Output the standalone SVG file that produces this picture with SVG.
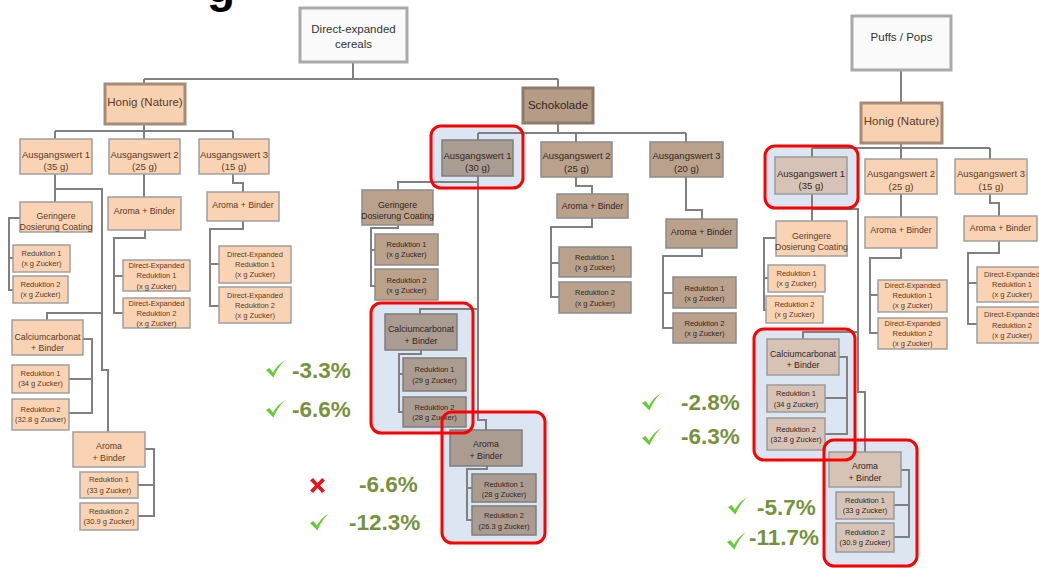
<svg xmlns="http://www.w3.org/2000/svg" width="1039" height="568" viewBox="0 0 1039 568">
<style>
.ln{stroke:#808080;stroke-width:2;fill:none}
.root{fill:#fafafa;stroke:#a9a9a9;stroke-width:3}
.hon{fill:#f8d1b0;stroke:#a58b78;stroke-width:3}
.sch{fill:#b59c86;stroke:#8f7a6a;stroke-width:3}
.pe{fill:#f9d3b3;stroke:#a0a0a0;stroke-width:1.5}
.ta{fill:#b9a18c;stroke:#8c8c8c;stroke-width:1.5}
.hg{fill:#ab9c92;stroke:#7e7e7e;stroke-width:1.5}
.hp{fill:#d7c3b6;stroke:#9a9a9a;stroke-width:1.5}
.hl{fill:#dce6f2}
.rd{fill:none;stroke:#ff0000;stroke-width:3}
text{font-family:'Liberation Sans',Arial,sans-serif;text-anchor:middle}
.tp{fill:#5b3b27}
.tt{fill:#33261d}
.tr{fill:#333}
.s12{font-size:11.5px}
.s10{font-size:9.5px}
.s9{font-size:8.8px}
.s7{font-size:7.5px}
.pct{font-size:22.5px;font-weight:bold;fill:#76923c;text-anchor:start}
.chk{fill:#66cc33}
.crs{fill:#e8141c}
</style>
<defs>
<path id="check" d="M0,10 L3.5,8 L7,12.5 C10,7 14,3 19.5,0 C15,4 11,9 7.5,17.5 Z"/>
<path id="cross" d="M0,2.5 L3,0 L7.5,5 L12,0 L15,2.5 L10,7.5 L15,12.5 L12,15 L7.5,10 L3,15 L0,12.5 L5,7.5 Z"/>
</defs>
<rect width="1039" height="568" fill="#ffffff"/>
<text x="207" y="2" style="font-size:46px;font-weight:bold;fill:#000;text-anchor:start">g</text>

<g id="highlights">
<rect class="hl" x="431" y="126" width="92" height="62" rx="10"/>
<rect class="hl" x="371" y="303" width="102" height="130" rx="10"/>
<rect class="hl" x="442" y="412" width="103" height="131" rx="10"/>
<rect class="hl" x="765" y="146" width="93" height="62" rx="10"/>
<rect class="hl" x="754" y="329" width="101" height="131" rx="10"/>
<rect class="hl" x="824" y="440" width="93" height="126" rx="10"/>
</g>

<g id="connectors">
<path class="ln" d="M353,62 V79 M144,79 H558 M144,79 V84 M558,79 V88"/>
<path class="ln" d="M144,124 V131 M55,131 H233 M55,131 V139 M144,131 V139 M233,131 V139"/>
<path class="ln" d="M55,174 V202 M55,189 H102 V370 H108 V432 M102,313 H47 V320"/>
<path class="ln" d="M20,218 H9 V290 H13 M9,258 H13"/>
<path class="ln" d="M83,339 H92 V413 H69 M92,379 H69"/>
<path class="ln" d="M145,449 H154 V516 H138 M154,485 H138"/>
<path class="ln" d="M144,174 V197 M145,230 V238 H114 V313 H123 M114,276 H123"/>
<path class="ln" d="M233,174 V183 H243 V192 M243,221 V229 H210 V306 H219 M210,264 H219"/>
<path class="ln" d="M558,123 V133 M478,133 H686 M478,133 V140 M576,133 V142 M686,133 V142"/>
<path class="ln" d="M478,176 V420 H486 V430 M478,182 H398 V190 M478,309 H420 V314"/>
<path class="ln" d="M398,225 V228 H371 V286 H375 M371,250 H375"/>
<path class="ln" d="M421,350 V354 H399 V412 H403 M399,374 H403"/>
<path class="ln" d="M487,466 V469 H467 V520 H472 M467,488 H472"/>
<path class="ln" d="M576,177 V186 H592 V194 M592,218 V227 H551 V297 H559 M551,263 H559"/>
<path class="ln" d="M686,177 V210 H702 V219 M702,248 V256 H663 V328 H673 M663,293 H673"/>
<path class="ln" d="M901,70 V103 M901,143 V148 M812,148 H990 M812,148 V157 M901,148 V159 M990,148 V159"/>
<path class="ln" d="M812,194 V221 M812,209 H858 V392 H865 V452 M858,332 H803 V339"/>
<path class="ln" d="M776,238 H764 V310 H766 M764,278 H768"/>
<path class="ln" d="M839,357 H847 V434 H825 M847,398 H825"/>
<path class="ln" d="M901,470 H909 V537 H894 M909,505 H894"/>
<path class="ln" d="M901,194 V217 M901,248 V258 H870 V333 H878 M870,295 H878"/>
<path class="ln" d="M990,194 V203 H999 V216 M999,241 V253 H968 V324 H977 M968,283 H977"/>
</g>

<!-- Left tree -->
<g id="rootL"><rect class="root" x="300" y="8" width="107" height="54"/><text class="tr s12" x="353.5" y="33">Direct-expanded</text><text class="tr s12" x="353.5" y="48">cereals</text></g>
<g id="honigL"><rect class="hon" x="105" y="84" width="80" height="40"/><text class="tp s12" x="145" y="106">Honig (Nature)</text></g>
<g id="aw1L"><rect class="pe" x="20" y="139" width="72" height="35"/><text class="tp s10" x="56" y="157.5">Ausgangswert 1</text><text class="tp s10" x="56" y="169.5">(35 g)</text></g>
<g id="aw2L"><rect class="pe" x="109" y="139" width="71" height="35"/><text class="tp s10" x="144.5" y="157.5">Ausgangswert 2</text><text class="tp s10" x="144.5" y="169.5">(25 g)</text></g>
<g id="aw3L"><rect class="pe" x="199" y="139" width="70" height="35"/><text class="tp s10" x="234" y="157.5">Ausgangswert 3</text><text class="tp s10" x="234" y="169.5">(15 g)</text></g>
<g id="gerL"><rect class="pe" x="20" y="202" width="72" height="30"/><text class="tp s9" x="56" y="219">Geringere</text><text class="tp s9" x="56" y="229.5">Dosierung Coating</text></g>
<g id="r1Lg"><rect class="pe" x="13" y="245" width="57" height="27"/><text class="tp s7" x="41.5" y="256">Reduktion 1</text><text class="tp s7" x="41.5" y="266">(x g Zucker)</text></g>
<g id="r2Lg"><rect class="pe" x="13" y="276" width="55" height="27"/><text class="tp s7" x="40.5" y="287">Reduktion 2</text><text class="tp s7" x="40.5" y="297">(x g Zucker)</text></g>
<g id="calL"><rect class="pe" x="12" y="320" width="71" height="35"/><text class="tp s9" x="47.5" y="339.5">Calciumcarbonat</text><text class="tp s9" x="47.5" y="350.5">+ Binder</text></g>
<g id="r1Lc"><rect class="pe" x="12" y="365" width="57" height="28"/><text class="tp s7" x="40.5" y="376">Reduktion 1</text><text class="tp s7" x="40.5" y="386">(34 g Zucker)</text></g>
<g id="r2Lc"><rect class="pe" x="12" y="399" width="57" height="31"/><text class="tp s7" x="40.5" y="412">Reduktion 2</text><text class="tp s7" x="40.5" y="422">(32.8 g Zucker)</text></g>
<g id="aroL"><rect class="pe" x="73" y="432" width="72" height="35"/><text class="tp s9" x="109" y="449">Aroma</text><text class="tp s9" x="109" y="461">+ Binder</text></g>
<g id="r1La"><rect class="pe" x="80" y="472" width="58" height="26"/><text class="tp s7" x="109" y="482">Reduktion 1</text><text class="tp s7" x="109" y="493">(33 g Zucker)</text></g>
<g id="r2La"><rect class="pe" x="80" y="503" width="58" height="27"/><text class="tp s7" x="109" y="514">Reduktion 2</text><text class="tp s7" x="109" y="524">(30.9 g Zucker)</text></g>
<g id="aroL2"><rect class="pe" x="108" y="197" width="73" height="33"/><text class="tp s9" x="144.5" y="214">Aroma + Binder</text></g>
<g id="de1L2"><rect class="pe" x="123" y="260" width="67" height="31"/><text class="tp s7" x="156.5" y="268">Direct-Expanded</text><text class="tp s7" x="156.5" y="278">Reduktion 1</text><text class="tp s7" x="156.5" y="289">(x g Zucker)</text></g>
<g id="de2L2"><rect class="pe" x="123" y="298" width="67" height="30"/><text class="tp s7" x="156.5" y="306">Direct-Expanded</text><text class="tp s7" x="156.5" y="316">Reduktion 2</text><text class="tp s7" x="156.5" y="326">(x g Zucker)</text></g>
<g id="aroL3"><rect class="pe" x="207" y="192" width="72" height="29"/><text class="tp s9" x="243" y="208">Aroma + Binder</text></g>
<g id="de1L3"><rect class="pe" x="219" y="246" width="72" height="37"/><text class="tp s7" x="255" y="257">Direct-Expanded</text><text class="tp s7" x="255" y="267">Reduktion 1</text><text class="tp s7" x="255" y="277">(x g Zucker)</text></g>
<g id="de2L3"><rect class="pe" x="219" y="287" width="72" height="36"/><text class="tp s7" x="255" y="298">Direct-Expanded</text><text class="tp s7" x="255" y="308">Reduktion 2</text><text class="tp s7" x="255" y="318">(x g Zucker)</text></g>

<!-- Middle tree -->
<g id="schok"><rect class="sch" x="523" y="88" width="70" height="35"/><text class="tt s12" x="558" y="109">Schokolade</text></g>
<g id="aw1M"><rect class="hg" x="442" y="140" width="71" height="36"/><text class="tt s10" x="477.5" y="159">Ausgangswert 1</text><text class="tt s10" x="477.5" y="171">(30 g)</text></g>
<g id="aw2M"><rect class="ta" x="541" y="142" width="71" height="35"/><text class="tt s10" x="576.5" y="159">Ausgangswert 2</text><text class="tt s10" x="576.5" y="171.5">(25 g)</text></g>
<g id="aw3M"><rect class="ta" x="650" y="142" width="73" height="35"/><text class="tt s10" x="686.5" y="159">Ausgangswert 3</text><text class="tt s10" x="686.5" y="171.5">(20 g)</text></g>
<g id="gerM"><rect class="ta" x="362" y="190" width="71" height="35"/><text class="tt s9" x="397.5" y="208">Geringere</text><text class="tt s9" x="397.5" y="219">Dosierung Coating</text></g>
<g id="r1Mg"><rect class="ta" x="375" y="234" width="63" height="31"/><text class="tt s7" x="406.5" y="247">Reduktion 1</text><text class="tt s7" x="406.5" y="257">(x g Zucker)</text></g>
<g id="r2Mg"><rect class="ta" x="375" y="269" width="63" height="31"/><text class="tt s7" x="406.5" y="283">Reduktion 2</text><text class="tt s7" x="406.5" y="293">(x g Zucker)</text></g>
<g id="calM"><rect class="hg" x="385" y="314" width="72" height="36"/><text class="tt s9" x="421" y="332">Calciumcarbonat</text><text class="tt s9" x="421" y="344">+ Binder</text></g>
<g id="r1Mc"><rect class="hg" x="403" y="358" width="63" height="33"/><text class="tt s7" x="434.5" y="372">Reduktion 1</text><text class="tt s7" x="434.5" y="383">(29 g Zucker)</text></g>
<g id="r2Mc"><rect class="hg" x="403" y="397" width="63" height="30"/><text class="tt s7" x="434.5" y="410">Reduktion 2</text><text class="tt s7" x="434.5" y="420">(28 g Zucker)</text></g>
<g id="aroM"><rect class="hg" x="450" y="430" width="72" height="36"/><text class="tt s9" x="486" y="447">Aroma</text><text class="tt s9" x="486" y="459">+ Binder</text></g>
<g id="r1Ma"><rect class="hg" x="472" y="474" width="64" height="28"/><text class="tt s7" x="504" y="487">Reduktion 1</text><text class="tt s7" x="504" y="497">(28 g Zucker)</text></g>
<g id="r2Ma"><rect class="hg" x="472" y="506" width="64" height="29"/><text class="tt s7" x="504" y="518">Reduktion 2</text><text class="tt s7" x="504" y="529">(26.3 g Zucker)</text></g>
<g id="aroM2"><rect class="ta" x="557" y="194" width="71" height="24"/><text class="tt s9" x="592.5" y="209">Aroma + Binder</text></g>
<g id="r1M2"><rect class="ta" x="559" y="247" width="72" height="30"/><text class="tt s7" x="595" y="260">Reduktion 1</text><text class="tt s7" x="595" y="270">(x g Zucker)</text></g>
<g id="r2M2"><rect class="ta" x="559" y="282" width="72" height="31"/><text class="tt s7" x="595" y="295">Reduktion 2</text><text class="tt s7" x="595" y="306">(x g Zucker)</text></g>
<g id="aroM3"><rect class="ta" x="666" y="219" width="71" height="29"/><text class="tt s9" x="701.5" y="235">Aroma + Binder</text></g>
<g id="r1M3"><rect class="ta" x="673" y="277" width="63" height="31"/><text class="tt s7" x="704.5" y="291">Reduktion 1</text><text class="tt s7" x="704.5" y="301">(x g Zucker)</text></g>
<g id="r2M3"><rect class="ta" x="673" y="313" width="63" height="30"/><text class="tt s7" x="704.5" y="326">Reduktion 2</text><text class="tt s7" x="704.5" y="336">(x g Zucker)</text></g>

<!-- Right tree -->
<g id="rootR"><rect class="root" x="852" y="16" width="99" height="54"/><text class="tr s12" x="901.5" y="41">Puffs / Pops</text></g>
<g id="honigR"><rect class="hon" x="861" y="103" width="81" height="40"/><text class="tp s12" x="901.5" y="125">Honig (Nature)</text></g>
<g id="aw1R"><rect class="hp" x="775" y="157" width="72" height="37"/><text class="tt s10" x="811" y="177">Ausgangswert 1</text><text class="tt s10" x="811" y="189">(35 g)</text></g>
<g id="aw2R"><rect class="pe" x="865" y="159" width="72" height="35"/><text class="tp s10" x="901" y="177">Ausgangswert 2</text><text class="tp s10" x="901" y="190">(25 g)</text></g>
<g id="aw3R"><rect class="pe" x="955" y="159" width="72" height="35"/><text class="tp s10" x="991" y="177">Ausgangswert 3</text><text class="tp s10" x="991" y="190">(15 g)</text></g>
<g id="gerR"><rect class="pe" x="776" y="221" width="71" height="35"/><text class="tp s9" x="811.5" y="239">Geringere</text><text class="tp s9" x="811.5" y="250">Dosierung Coating</text></g>
<g id="r1Rg"><rect class="pe" x="768" y="265" width="57" height="27"/><text class="tp s7" x="796.5" y="276">Reduktion 1</text><text class="tp s7" x="796.5" y="286">(x g Zucker)</text></g>
<g id="r2Rg"><rect class="pe" x="766" y="296" width="57" height="27"/><text class="tp s7" x="794.5" y="307">Reduktion 2</text><text class="tp s7" x="794.5" y="317">(x g Zucker)</text></g>
<g id="calR"><rect class="hp" x="767" y="339" width="72" height="36"/><text class="tt s9" x="803" y="356.5">Calciumcarbonat</text><text class="tt s9" x="803" y="368">+ Binder</text></g>
<g id="r1Rc"><rect class="hp" x="767" y="385" width="58" height="27"/><text class="tt s7" x="796" y="396">Reduktion 1</text><text class="tt s7" x="796" y="407">(34 g Zucker)</text></g>
<g id="r2Rc"><rect class="hp" x="767" y="418" width="58" height="32"/><text class="tt s7" x="796" y="432">Reduktion 2</text><text class="tt s7" x="796" y="442">(32.8 g Zucker)</text></g>
<g id="aroR"><rect class="hp" x="829" y="452" width="72" height="35"/><text class="tt s9" x="865" y="469">Aroma</text><text class="tt s9" x="865" y="481">+ Binder</text></g>
<g id="r1Ra"><rect class="hp" x="836" y="492" width="58" height="27"/><text class="tt s7" x="865" y="503">Reduktion 1</text><text class="tt s7" x="865" y="513">(33 g Zucker)</text></g>
<g id="r2Ra"><rect class="hp" x="836" y="523" width="58" height="29"/><text class="tt s7" x="865" y="535">Reduktion 2</text><text class="tt s7" x="865" y="545">(30.9 g Zucker)</text></g>
<g id="aroR2"><rect class="pe" x="865" y="217" width="72" height="31"/><text class="tp s9" x="901" y="233">Aroma + Binder</text></g>
<g id="de1R2"><rect class="pe" x="878" y="280" width="69" height="32"/><text class="tp s7" x="912.5" y="288">Direct-Expanded</text><text class="tp s7" x="912.5" y="298">Reduktion 1</text><text class="tp s7" x="912.5" y="308">(x g Zucker)</text></g>
<g id="de2R2"><rect class="pe" x="878" y="318" width="69" height="31"/><text class="tp s7" x="912.5" y="326">Direct-Expanded</text><text class="tp s7" x="912.5" y="336">Reduktion 2</text><text class="tp s7" x="912.5" y="346">(x g Zucker)</text></g>
<g id="aroR3"><rect class="pe" x="964" y="216" width="73" height="25"/><text class="tp s9" x="1000.5" y="231">Aroma + Binder</text></g>
<g id="de1R3"><rect class="pe" x="977" y="267" width="70" height="35"/><text class="tp s7" x="1012" y="277">Direct-Expanded</text><text class="tp s7" x="1012" y="287">Reduktion 1</text><text class="tp s7" x="1012" y="297">(x g Zucker)</text></g>
<g id="de2R3"><rect class="pe" x="977" y="307" width="70" height="36"/><text class="tp s7" x="1012" y="317">Direct-Expanded</text><text class="tp s7" x="1012" y="328">Reduktion 2</text><text class="tp s7" x="1012" y="338">(x g Zucker)</text></g>

<g id="highlight-borders">
<rect class="rd" x="431" y="126" width="92" height="62" rx="10"/>
<rect class="rd" x="371" y="303" width="102" height="130" rx="10"/>
<rect class="rd" x="442" y="412" width="103" height="131" rx="10"/>
<rect class="rd" x="765" y="146" width="93" height="62" rx="10"/>
<rect class="rd" x="754" y="329" width="101" height="131" rx="10"/>
<rect class="rd" x="824" y="440" width="93" height="126" rx="10"/>
</g>

<g id="results">
<use href="#check" class="chk" x="266" y="360"/><text class="pct" x="292" y="378">-3.3%</text>
<use href="#check" class="chk" x="266" y="400"/><text class="pct" x="292" y="417">-6.6%</text>
<use href="#cross" class="crs" x="310" y="478"/><text class="pct" x="359" y="492">-6.6%</text>
<use href="#check" class="chk" x="310" y="513"/><text class="pct" x="349" y="530">-12.3%</text>
<use href="#check" class="chk" x="642" y="393"/><text class="pct" x="681" y="410">-2.8%</text>
<use href="#check" class="chk" x="642" y="428"/><text class="pct" x="681" y="444">-6.3%</text>
<use href="#check" class="chk" x="728" y="497"/><text class="pct" x="757" y="515">-5.7%</text>
<use href="#check" class="chk" x="727" y="532"/><text class="pct" x="749" y="545">-11.7%</text>
</g>
</svg>
